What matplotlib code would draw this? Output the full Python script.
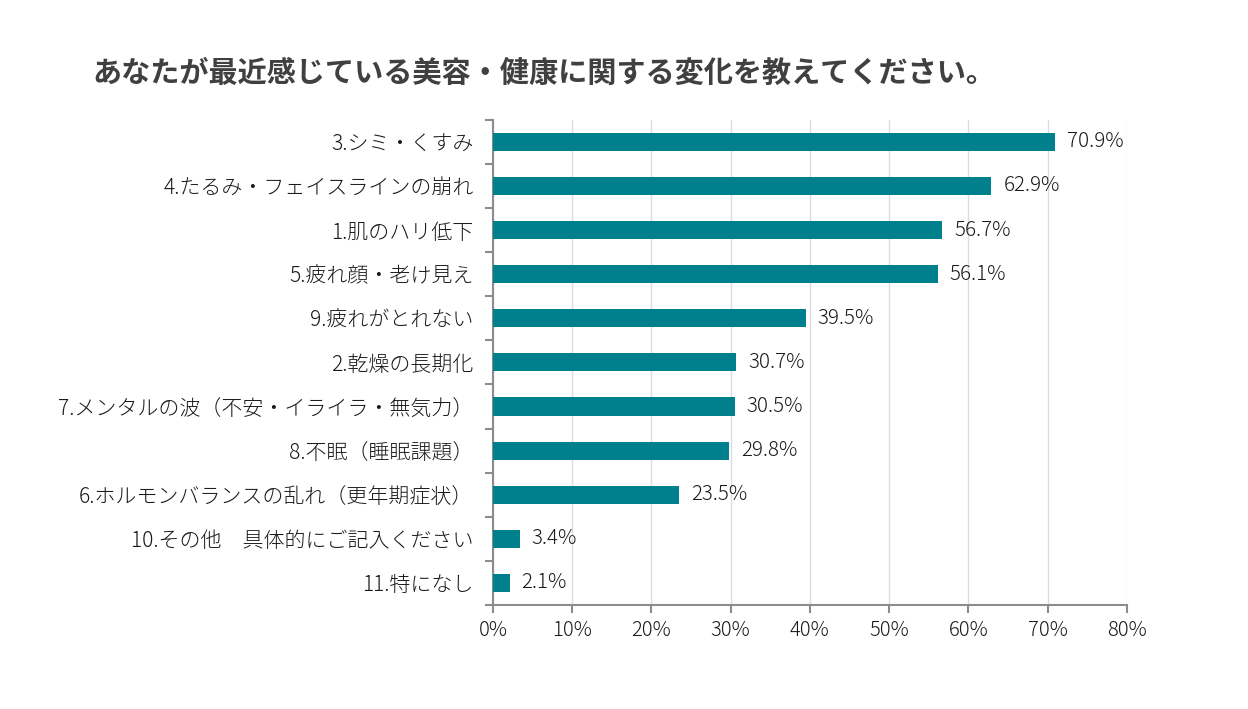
import matplotlib
matplotlib.use("Agg")
import matplotlib.pyplot as plt
from matplotlib.ticker import FuncFormatter, MultipleLocator

plt.rcParams['font.family'] = ['Noto Sans CJK JP', 'DejaVu Sans']

categories = [
    "3.シミ・くすみ",
    "4.たるみ・フェイスラインの崩れ",
    "1.肌のハリ低下",
    "5.疲れ顔・老け見え",
    "9.疲れがとれない",
    "2.乾燥の長期化",
    "7.メンタルの波（不安・イライラ・無気力）",
    "8.不眠（睡眠課題）",
    "6.ホルモンバランスの乱れ（更年期症状）",
    "10.その他　具体的にご記入ください",
    "11.特になし",
]
values = [70.9, 62.9, 56.7, 56.1, 39.5, 30.7, 30.5, 29.8, 23.5, 3.4, 2.1]
title = "あなたが最近感じている美容・健康に関する変化を教えてください。"

bar_color = "#007F8C"
axis_color = "#8C8C8C"
text_color = "#1A1A1A"

fig = plt.figure(figsize=(12.48, 7.09), dpi=100)
ax = fig.add_axes([0.395, 0.1467, 0.508, 0.6843])

y = list(range(len(categories)))
ax.barh(y, values, height=0.41, color=bar_color, zorder=3)
ax.set_ylim(len(categories) - 0.5, -0.5)
ax.set_xlim(0, 80)

for yi, v in zip(y, values):
    ax.text(v + 1.5, yi, f"{v:.1f}%", va="center", ha="left",
            fontsize=14.8, color=text_color, fontweight="light")

ax.xaxis.set_major_locator(MultipleLocator(10))
ax.xaxis.set_major_formatter(FuncFormatter(lambda x, p: f"{x:.0f}%"))
ax.set_yticks([i - 0.5 for i in range(len(categories) + 1)], minor=False)
ax.set_yticklabels([])
ax.set_yticks(y, minor=True)
ax.set_yticklabels(categories, minor=True)
ax.tick_params(axis="y", which="minor", length=0, pad=14, labelsize=15.1,
               labelcolor=text_color)
ax.tick_params(axis="y", which="major", length=6, width=1.5, color=axis_color)
ax.tick_params(axis="x", length=6, width=1.5, color=axis_color, labelsize=14.5,
               labelcolor=text_color, pad=5)
for lab in ax.get_yticklabels(minor=True) + ax.get_xticklabels():
    lab.set_fontweight("light")

ax.grid(axis="x", color="#D9DCE3", linewidth=1, zorder=0)
for s in ["top", "right"]:
    ax.spines[s].set_visible(False)
for s in ["left", "bottom"]:
    ax.spines[s].set_color(axis_color)
    ax.spines[s].set_linewidth(1.5)

fig.text(92 / 1248, 1 - 73 / 709, title, fontsize=21, fontweight="bold",
         color="#404040", ha="left", va="center")

fig.savefig("out.png", dpi=100, facecolor="white")
